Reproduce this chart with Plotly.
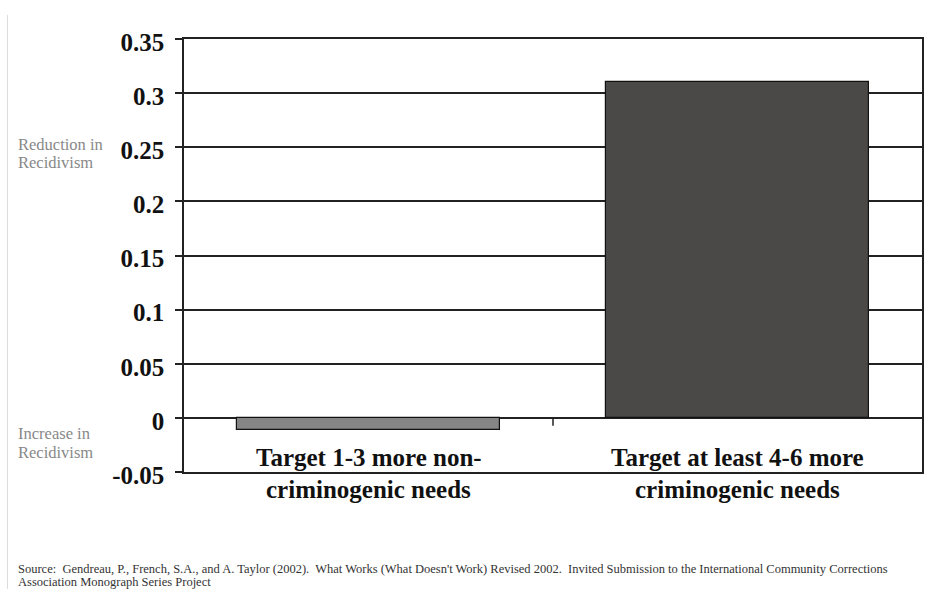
import plotly.graph_objects as go

categories = [["Target 1-3 more non-", "criminogenic needs"],
              ["Target at least 4-6 more", "criminogenic needs"]]
values = [-0.011, 0.31]
bar_colors = ["#858585", "#4b4947"]
tick_vals = [-0.05, 0, 0.05, 0.1, 0.15, 0.2, 0.25, 0.3, 0.35]
tick_text = ["-0.05", "0", "0.05", "0.1", "0.15", "0.2", "0.25", "0.3", "0.35"]
side_top = ["Reduction in", "Recidivism"]
side_bottom = ["Increase in", "Recidivism"]
source_lines = ["Source:  Gendreau, P., French, S.A., and A. Taylor (2002).  What Works (What Doesn't Work) "
                "Revised 2002.  Invited Submission to the International Community Corrections",
                "Association Monograph Series Project"]

W, H = 927, 589
L, R, T, B = 184, 3, 39, 117
pw, ph = W - L - R, H - T - B

def px(x):
    return (x - L) / pw

def py(y):
    return 1 - (y - T) / ph

xpos = list(range(len(categories)))

fig = go.Figure()
fig.add_trace(go.Bar(
    x=xpos, y=values, width=0.715,
    marker=dict(color=bar_colors, line=dict(color="#111111", width=1.2)),
    hoverinfo="skip",
))

serif = "Liberation Serif, Times New Roman, serif"
fig.update_layout(
    width=W, height=H,
    margin=dict(l=L, r=R, t=T, b=B),
    paper_bgcolor="white", plot_bgcolor="white",
    showlegend=False,
    bargap=0,
    xaxis=dict(range=[-0.5, 1.5], showticklabels=False, ticks="",
               showgrid=False, zeroline=False,
               showline=True, mirror=True, linecolor="#222222", linewidth=1.5),
    yaxis=dict(range=[-0.05, 0.35], tickvals=tick_vals, ticktext=tick_text,
               ticks="outside", ticklen=7, tickwidth=1.5, tickcolor="#222222",
               showgrid=True, gridcolor="#222222", gridwidth=1.5,
               zeroline=True, zerolinecolor="#222222", zerolinewidth=1.5,
               showline=True, mirror=True, linecolor="#222222", linewidth=1.5,
               tickfont=dict(family=serif, size=25, color="#111111", weight="bold"),
               ticklabelstandoff=6, ticklabelshift=3),
)

# category labels (two lines each, spaced like the reference)
for i, lines in enumerate(categories):
    for j, ln in enumerate(lines):
        fig.add_annotation(x=i, xref="x", y=py(457 + 32.5 * j), yref="paper", text=ln,
                           showarrow=False, yanchor="middle", xanchor="center",
                           font=dict(family=serif, size=25, color="#111111", weight="bold"))

# middle category tick at the zero line
fig.add_shape(type="line", xref="x", yref="y", x0=0.5, x1=0.5, y0=0, y1=-0.0072,
              line=dict(color="#222222", width=1.5))

side = dict(family=serif, size=16.5, color="#888888")
for j, ln in enumerate(side_top):
    fig.add_annotation(x=px(17), xref="paper", y=py(144 + 18.5 * j), yref="paper", text=ln,
                       showarrow=False, xanchor="left", yanchor="middle", font=side, borderpad=0)
for j, ln in enumerate(side_bottom):
    fig.add_annotation(x=px(17), xref="paper", y=py(433.5 + 18.5 * j), yref="paper", text=ln,
                       showarrow=False, xanchor="left", yanchor="middle", font=side, borderpad=0)

src_font = dict(family=serif, size=12.5, color="#333333")
for j, ln in enumerate(source_lines):
    fig.add_annotation(x=px(17), xref="paper", y=py(568.5 + 13.5 * j), yref="paper", text=ln,
                       showarrow=False, xanchor="left", yanchor="middle", font=src_font, borderpad=0)

# light frame line at the left edge of the picture
fig.add_shape(type="line", xref="paper", yref="paper",
              x0=px(7), x1=px(7), y0=py(15), y1=py(H),
              line=dict(color="#dddddd", width=1))

fig.write_html("out.html", config={"displayModeBar": False},
               post_script="document.body.style.margin='0';")
